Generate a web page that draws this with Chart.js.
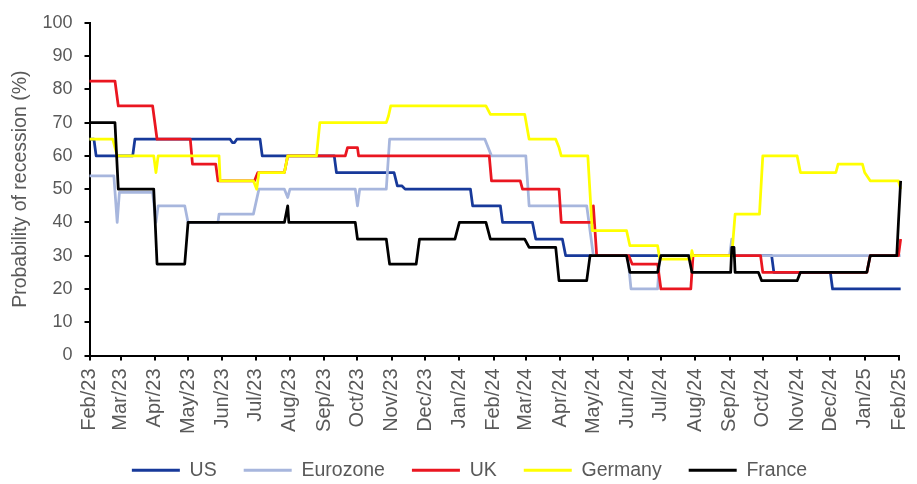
<!DOCTYPE html>
<html>
<head>
<meta charset="utf-8">
<script src="https://cdn.jsdelivr.net/npm/chart.js@4.4.1/dist/chart.umd.min.js"></script>
<style>
  html, body { margin: 0; padding: 0; background: #ffffff; overflow: hidden; }
  #wrap { position: relative; width: 917px; height: 484px; }
</style>
</head>
<body>
<div id="wrap"><canvas id="chart"></canvas></div>
<script>
// Month labels along the time axis (first day of each month)
const monthLabels = ['Feb/23','Mar/23','Apr/23','May/23','Jun/23','Jul/23','Aug/23','Sep/23','Oct/23','Nov/23','Dec/23','Jan/24',
  'Feb/24','Mar/24','Apr/24','May/24','Jun/24','Jul/24','Aug/24','Sep/24','Oct/24','Nov/24','Dec/24','Jan/25','Feb/25'];

// Series: x = days since 1 Feb 2023, y = probability of recession (%)
const usDays   = [0,4,6,39,41,127,129,131,133,154,156,221,223,275,278,282,285,344,346,371,373,400,403,427,430,616,618,669,671,732.5];
const usValues = [65,65,60,60,65,65,64,64,65,65,60,60,55,55,51,51,50,50,45,45,40,40,35,35,30,30,25,25,20,20];

const euroDays   = [0,22,25,27,57,60,62,86,89,116,117,148,153,176,179,181,240,242,244,268,271,357,363,394,397,449,455,486,489,513,515,578,580,581,732.5];
const euroValues = [54,54,40,49,49,40,45,45,40,40,42.5,42.5,50,50,47.5,50,50,45,50,50,65,65,60,60,45,45,30,30,20,20,30,30,35,30,30];

const ukDays   = [0,23,26,57,61,91,93,114,116,149,152,176,179,231,233,242,243,361,363,389,391,424,426,454,455,458,487,490,513,516,543,545,606,608,702,705,730.5,732.5];
const ukValues = [82.5,82.5,75,75,65,65,57.5,57.5,52.5,52.5,55,55,60,60,62.5,62.5,60,60,52.5,52.5,50,50,40,40,45,30,30,27.5,27.5,20,20,30,30,25,25,30,30,35];

const deDays   = [0,21,25,58,60,62,117,118,148,151,153,176,179,205,208,268,270,272,358,362,393,397,421,424,426,450,454,485,488,513,515,543,544,545,580,583,605,608,639,642,674,676,698,700,705,730.5,732.5];
const deValues = [65,65,60,60,55,60,60,52.5,52.5,50,55,55,60,60,70,70,72,75,75,72.5,72.5,65,65,62.5,60,60,37.5,37.5,33,33,29,29,31.5,30,30,42.5,42.5,60,60,55,55,57.5,57.5,55,52.5,52.5,50];

const frDays   = [0,23,26,58,61,86,89,176,179,180,240,242,268,271,295,298,330,334,358,362,393,397,421,424,449,452,485,488,513,516,541,544,579,580,582,583,604,607,639,642,702,705,729,730.5,732.5];
const frValues = [70,70,50,50,27.5,27.5,40,40,45,40,40,35,35,27.5,27.5,35,35,40,40,35,35,32.5,32.5,22.5,22.5,30,30,25,25,30,30,25,25,32.5,32.5,25,25,22.5,22.5,25,25,30,30,40,52.5];

const yTicksMax = 100;
const yTickStep = 10;

// Day offset of each month label
const originUTC = Date.UTC(2023, 1, 1);
const monthStartDays = monthLabels.map((_, i) => Math.round((Date.UTC(2023, 1 + i, 1) - originUTC) / 86400000));

const TEXT = '#595959';
const FONT = 'Liberation Sans, Arial, Helvetica, sans-serif';

function points(days, values) {
  return days.map((d, i) => ({ x: d, y: values[i] }));
}

function series(label, days, values, color, order) {
  return {
    label,
    data: points(days, values),
    borderColor: color,
    backgroundColor: color,
    borderWidth: 2.75,
    pointRadius: 0,
    pointHoverRadius: 0,
    tension: 0,
    fill: false,
    clip: false,
    borderJoinStyle: 'round',
    order
  };
}

// Shift the legend row so it sits under the middle of the figure
const legendShift = {
  id: 'legendShift',
  afterLayout(chart) {
    const lg = chart.legend;
    if (lg) { lg.left += 20; lg.right += 20; }
  }
};

new Chart(document.getElementById('chart'), {
  type: 'line',
  data: {
    datasets: [
      series('US', usDays, usValues, '#17399A', 4),
      series('Eurozone', euroDays, euroValues, '#A7B6DD', 3),
      series('UK', ukDays, ukValues, '#EA1620', 2),
      series('Germany', deDays, deValues, '#FFFF00', 1),
      series('France', frDays, frValues, '#000000', 0)
    ]
  },
  plugins: [legendShift],
  options: {
    responsive: true,
    maintainAspectRatio: false,
    animation: false,
    events: [],
    layout: { padding: { top: 19, right: 18, left: 0, bottom: -6 } },
    scales: {
      x: {
        type: 'linear',
        min: 0,
        max: monthStartDays[monthStartDays.length - 1],
        afterBuildTicks(scale) {
          scale.ticks = monthStartDays.map(v => ({ value: v }));
        },
        afterFit(scale) {
          scale.height = 78;
          scale.paddingLeft = 0;
          scale.paddingRight = 0;
        },
        grid: { drawOnChartArea: false, drawTicks: true, tickLength: 5, color: '#000', lineWidth: 2 },
        border: { display: true, color: '#000', width: 2 },
        ticks: {
          autoSkip: false,
          minRotation: 90,
          maxRotation: 90,
          padding: 8,
          color: TEXT,
          font: { family: FONT, size: 20 },
          callback(value, index) { return monthLabels[index]; }
        }
      },
      y: {
        min: 0,
        max: yTicksMax,
        afterFit(scale) { scale.width = 89.5; },
        grid: { drawOnChartArea: false, drawTicks: true, tickLength: 5, color: '#000', lineWidth: 2 },
        border: { display: true, color: '#000', width: 2 },
        ticks: {
          stepSize: yTickStep,
          padding: 12,
          color: TEXT,
          font: { family: FONT, size: 18 }
        },
        title: {
          display: true,
          text: 'Probability of recession (%)',
          color: TEXT,
          font: { family: FONT, size: 19.5 },
          padding: { top: 9, bottom: 0 }
        }
      }
    },
    plugins: {
      tooltip: { enabled: false },
      legend: {
        position: 'bottom',
        labels: {
          boxWidth: 48,
          boxHeight: 3,
          padding: 27,
          color: TEXT,
          font: { family: FONT, size: 19.5 },
          sort: (a, b) => a.datasetIndex - b.datasetIndex,
          generateLabels(chart) {
            return Chart.defaults.plugins.legend.labels.generateLabels(chart).map(item => {
              item.fillStyle = item.strokeStyle;
              item.lineWidth = 0;
              return item;
            });
          }
        }
      }
    }
  }
});
</script>
</body>
</html>
